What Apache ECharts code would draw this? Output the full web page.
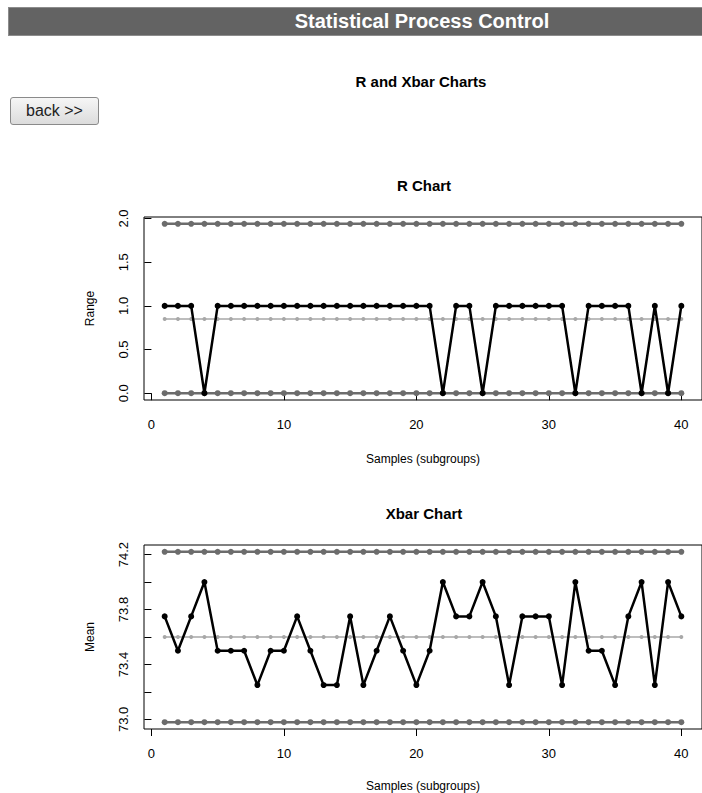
<!DOCTYPE html>
<html>
<head>
<meta charset="utf-8">
<script src="https://cdn.jsdelivr.net/npm/echarts@6/dist/echarts.min.js"></script>
<style>
  html, body { margin: 0; padding: 0; background: #fff; width: 702px; height: 793px; overflow: hidden; font-family: "Liberation Sans", Arial, sans-serif; }
  #chart { position: absolute; left: 0; top: 0; width: 702px; height: 793px; }
  #header { position: absolute; left: 8px; top: 7px; width: 720px; height: 27px; background: #636363; border: 1px solid #8c8c8c; }
  #header span { position: absolute; left: 413px; top: 2px; transform: translateX(-50%); color: #fff; font-weight: bold; font-size: 20px; white-space: nowrap; }
  #back { position: absolute; left: 10px; top: 97px; width: 87px; height: 26px; border: 1px solid #8a8a8a; border-radius: 3px; background: linear-gradient(#f6f6f6, #dcdcdc); font-size: 16px; color: #222; text-align: center; line-height: 26px; }
</style>
</head>
<body>
<div id="chart"></div>
<div id="header"><span>Statistical Process Control</span></div>
<div id="back">back &gt;&gt;</div>
<script>
// ---- data ----
const samples = [1,2,3,4,5,6,7,8,9,10,11,12,13,14,15,16,17,18,19,20,21,22,23,24,25,26,27,28,29,30,31,32,33,34,35,36,37,38,39,40];
const rangeValues = [1,1,1,0,1,1,1,1,1,1,1,1,1,1,1,1,1,1,1,1,1,0,1,1,0,1,1,1,1,1,1,0,1,1,1,1,0,1,0,1];
const meanValues = [73.75,73.5,73.75,74.0,73.5,73.5,73.5,73.25,73.5,73.5,
                    73.75,73.5,73.25,73.25,73.75,73.25,73.5,73.75,73.5,73.25,
                    73.5,74.0,73.75,73.75,74.0,73.75,73.25,73.75,73.75,73.75,
                    73.25,74.0,73.5,73.5,73.25,73.75,74.0,73.25,74.0,73.75];
const rLimits = { ucl: 1.94, cl: 0.85, lcl: 0 };
const xLimits = { ucl: 74.22, cl: 73.6, lcl: 72.98 };
const xTicks = [0,10,20,30,40];
const rTicks = [0,0.5,1,1.5,2];
const meanTicks = [73.0,73.2,73.4,73.6,73.8,74.0,74.2];
const meanLabels = [73.0,73.4,73.8,74.2];
const pageTitle = 'R and Xbar Charts';
const chartTitles = ['R Chart', 'Xbar Chart'];
const yNames = ['Range', 'Mean'];
const xName = 'Samples (subgroups)';

const FONT = 'Liberation Sans';
const chart = echarts.init(document.getElementById('chart'), null, { renderer: 'svg' });

function pairs(vals) { return samples.map((s, i) => [s, vals[i]]); }
function constLine(v) { return samples.map(s => [s, v]); }

function xAxis(gi, margin, gap) {
  return {
    type: 'value', gridIndex: gi, min: -0.56, max: 41.56,
    axisLine: { show: false },
    axisTick: { show: true, customValues: xTicks, length: 7, lineStyle: { color: '#000', width: 1 } },
    axisLabel: { customValues: xTicks, margin: margin, fontSize: 13, color: '#000', fontFamily: FONT },
    splitLine: { show: false },
    name: xName, nameLocation: 'middle', nameGap: gap,
    nameTextStyle: { fontSize: 12, color: '#000', fontFamily: FONT }
  };
}
function yAxis(gi, min, max, ticks, labels, fmt, name) {
  return {
    type: 'value', gridIndex: gi, min: min, max: max,
    axisLine: { show: false },
    axisTick: { show: true, customValues: ticks, length: 7, lineStyle: { color: '#000', width: 1 } },
    axisLabel: { customValues: labels, rotate: 90, margin: 14, fontSize: 13, color: '#000', fontFamily: FONT,
                 formatter: v => v.toFixed(fmt) },
    splitLine: { show: false },
    name: name, nameLocation: 'middle', nameGap: 48, nameRotate: 90,
    nameTextStyle: { fontSize: 12, color: '#000', fontFamily: FONT }
  };
}
function limitSeries(gi, data, color, width, size, z) {
  return { type: 'line', xAxisIndex: gi, yAxisIndex: gi, data: data, symbol: 'circle', symbolSize: size,
           lineStyle: { color: color, width: width }, itemStyle: { color: color }, z: z, silent: true };
}
function mainSeries(gi, data) {
  return { type: 'line', xAxisIndex: gi, yAxisIndex: gi, data: data, symbol: 'circle', symbolSize: 6,
           lineStyle: { color: '#000', width: 2.5 }, itemStyle: { color: '#000' }, z: 5 };
}

chart.setOption({
  animation: false,
  backgroundColor: '#fff',
  grid: [
    { left: 144, top: 217, width: 559, height: 183, show: true, borderColor: '#000', borderWidth: 1, backgroundColor: 'transparent' },
    { left: 144, top: 545, width: 559, height: 184, show: true, borderColor: '#000', borderWidth: 1, backgroundColor: 'transparent' }
  ],
  graphic: [
    { type: 'text', x: 421, y: 81, style: { text: pageTitle, fontSize: 15, fontWeight: 'bold', fontFamily: FONT, fill: '#000', textAlign: 'center', textVerticalAlign: 'middle' } },
    { type: 'text', x: 424, y: 185, style: { text: chartTitles[0], fontSize: 15, fontWeight: 'bold', fontFamily: FONT, fill: '#000', textAlign: 'center', textVerticalAlign: 'middle' } },
    { type: 'text', x: 424, y: 513, style: { text: chartTitles[1], fontSize: 15, fontWeight: 'bold', fontFamily: FONT, fill: '#000', textAlign: 'center', textVerticalAlign: 'middle' } }
  ],
  xAxis: [ xAxis(0, 18, 53), xAxis(1, 18, 51) ],
  yAxis: [
    yAxis(0, -0.0776, 2.0176, rTicks, rTicks, 1, yNames[0]),
    yAxis(1, 72.9304, 74.2696, meanTicks, meanLabels, 1, yNames[1])
  ],
  series: [
    limitSeries(0, constLine(rLimits.ucl), '#6c6c6c', 2.5, 6, 2),
    limitSeries(0, constLine(rLimits.lcl), '#6c6c6c', 2.5, 6, 2),
    limitSeries(0, constLine(rLimits.cl), '#a8a8a8', 1.5, 4, 2),
    mainSeries(0, pairs(rangeValues)),
    limitSeries(1, constLine(xLimits.ucl), '#6c6c6c', 2.5, 6, 2),
    limitSeries(1, constLine(xLimits.lcl), '#6c6c6c', 2.5, 6, 2),
    limitSeries(1, constLine(xLimits.cl), '#a8a8a8', 1.5, 4, 2),
    mainSeries(1, pairs(meanValues))
  ]
});
</script>
</body>
</html>
